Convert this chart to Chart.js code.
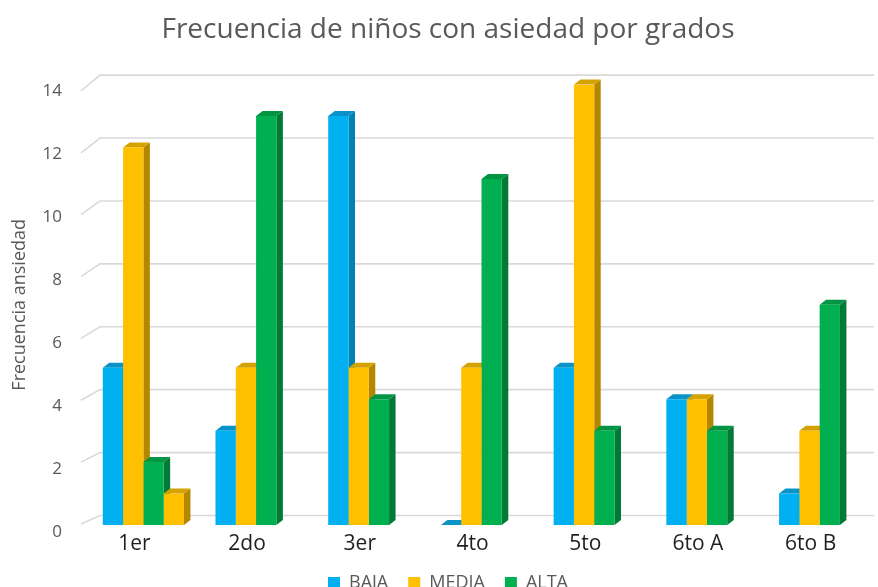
<!DOCTYPE html>
<html><head><meta charset="utf-8">
<script src="https://cdn.jsdelivr.net/npm/chart.js@4.4.1/dist/chart.umd.min.js"></script>
<style>html,body{margin:0;padding:0;background:#fff;overflow:hidden}#wrap{width:878px;height:587px}</style>
</head><body><div id="wrap"><canvas id="c" width="878" height="587"></canvas></div>
<script>
const categories = ['1er', '2do', '3er', '4to', '5to', '6to A', '6to B'];
const baja  = [5, 3, 13, 0, 5, 4, 1];
const media = [12, 5, 5, 5, 14, 4, 3];
const alta  = [2, 13, 4, 11, 3, 3, 7];
const extra = [1, null, null, null, null, null, null];
const yTicks = [0, 2, 4, 6, 8, 10, 12, 14];

const FONT = "'Open Sans', 'Noto Sans', sans-serif";
const DX = 6.5, DY = 5;
const PLOT_BOTTOM = 525;
const PAD_BOTTOM = -15;

const faces = {
  id: 'faces',
  beforeDatasetsDraw(chart) {
    const ctx = chart.ctx, ys = chart.scales.y, area = chart.chartArea;
    ctx.save();
    ctx.strokeStyle = '#d9d9d9';
    ctx.lineWidth = 1.6;
    const stubX = area.left - 6, backX = area.left + 13;
    yTicks.forEach(v => {
      const fy = ys.getPixelForValue(v);
      const by = fy - 9.5;
      const sy = fy - 1 + 7.4 * (v / ys.max);
      ctx.beginPath();
      ctx.moveTo(stubX, sy); ctx.lineTo(backX, by); ctx.lineTo(area.right - 2, by);
      ctx.stroke();
    });
    // 3D side and top faces, painted left to right
    const n = chart.data.labels.length;
    for (let i = 0; i < n; i++) {
      chart.data.datasets.forEach((ds, d) => {
        const v = ds.data[i];
        if (v === null || v === undefined) return;
        const el = chart.getDatasetMeta(d).data[i];
        if (!el) return;
        const l = el.x - el.width / 2, r = el.x + el.width / 2, t = el.y, b = el.base;
        ctx.fillStyle = ds.sideColor;
        ctx.beginPath();
        ctx.moveTo(r, t); ctx.lineTo(r + DX, t - DY); ctx.lineTo(r + DX, b - DY); ctx.lineTo(r, b);
        ctx.closePath(); ctx.fill();
        ctx.fillStyle = ds.topColor;
        ctx.beginPath();
        ctx.moveTo(l, t); ctx.lineTo(r, t); ctx.lineTo(r + DX, t - DY); ctx.lineTo(l + DX, t - DY);
        ctx.closePath(); ctx.fill();
      });
    }
    ctx.restore();
  }
};

new Chart(document.getElementById('c'), {
  type: 'bar',
  data: {
    labels: categories,
    datasets: [
      { label: 'BAJA', data: baja, backgroundColor: '#00B0F0', sideColor: '#0083b4', topColor: '#0a93c8' },
      { label: 'MEDIA', data: media, backgroundColor: '#FFC000', sideColor: '#b38700', topColor: '#d6a200' },
      { label: 'ALTA', data: alta, backgroundColor: '#00B050', sideColor: '#007a36', topColor: '#009443' },
      { label: 'MEDIA ', data: extra, backgroundColor: '#FFC000', sideColor: '#b38700', topColor: '#d6a200' }
    ]
  },
  options: {
    responsive: false,
    animation: false,
    devicePixelRatio: 1,
    layout: { padding: { left: 20, right: 2, top: 0, bottom: PAD_BOTTOM } },
    datasets: { bar: { categoryPercentage: 0.72, barPercentage: 1.0, borderWidth: 0 } },
    plugins: {
      title: {
        display: true,
        text: 'Frecuencia de niños con asiedad por grados',
        color: '#595959',
        font: { family: FONT, size: 28, weight: 'normal', lineHeight: 1.2 },
        padding: { top: 13, bottom: 38 }
      },
      legend: {
        position: 'bottom',
        labels: {
          color: '#595959',
          font: { family: FONT, size: 18 },
          boxWidth: 12, boxHeight: 12, padding: 20,
          filter: item => item.datasetIndex < 3
        }
      },
      tooltip: { enabled: false }
    },
    scales: {
      x: {
        grid: { display: false, drawTicks: false },
        border: { display: false },
        ticks: { color: '#1f1f1f', font: { family: FONT, size: 21 }, padding: 6, maxRotation: 0, labelOffset: -9 },
        afterFit(s) {
          s.height = (s.chart.height - PAD_BOTTOM) - s.chart.legend.height - PLOT_BOTTOM;
        }
      },
      y: {
        min: 0, max: 14,
        grid: { display: false, drawTicks: false },
        border: { display: false },
        ticks: { stepSize: 2, color: '#595959', font: { family: FONT, size: 17 }, padding: 25, labelOffset: 7 },
        title: {
          display: true, text: 'Frecuencia ansiedad', color: '#595959',
          font: { family: FONT, size: 18 }, padding: { top: -11, bottom: 0 }
        },
        afterFit(s) { s.width = 67; }
      }
    }
  },
  plugins: [faces]
});
</script>
</body></html>
